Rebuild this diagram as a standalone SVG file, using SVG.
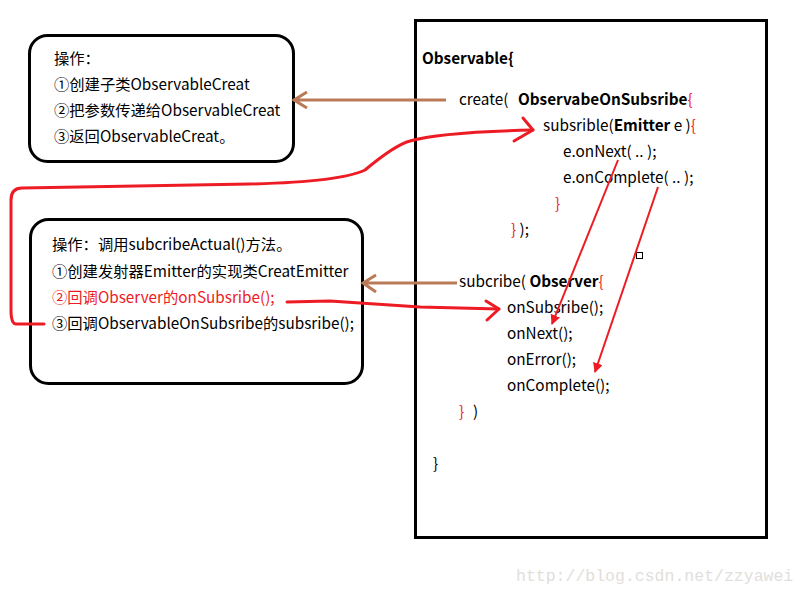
<svg xmlns="http://www.w3.org/2000/svg" width="808" height="595" viewBox="0 0 808 595">
<defs>
<style>
text{font-family:"Noto Sans CJK SC","Noto Sans",sans-serif;font-size:15.3px;fill:#000}
.b{font-weight:bold}
.r{fill:#ed1c24}
.box{fill:#fff;stroke:#000;stroke-width:3}
.brown{fill:none;stroke:#b97a57;stroke-width:3}
.red{fill:none;stroke:#ed1c24;stroke-width:3;stroke-linejoin:round;stroke-linecap:round}
.thin{fill:none;stroke:#ed1c24;stroke-width:2}
.wm{font-family:"Liberation Mono",monospace;font-size:16.5px;fill:#e2dedb}
</style>
<marker id="tri" viewBox="0 0 10 10" refX="9" refY="5" markerWidth="5" markerHeight="5" orient="auto" markerUnits="strokeWidth">
<path d="M0,0 L10,5 L0,10 z" fill="#ed1c24"/>
</marker>
</defs>
<rect width="808" height="595" fill="#fff"/>

<g id="observable">
<rect class="box" x="415.5" y="20.5" width="351" height="517"/>
<text x="422" y="64" class="b">Observable{</text>
<text x="459" y="105">create(<tspan x="518" class="b">ObservabeOnSubsribe</tspan><tspan class="r">{</tspan></text>
<text x="543" y="131">subsrible(<tspan class="b">Emitter</tspan> e )<tspan class="r">{</tspan></text>
<text x="563" y="157">e.onNext( .. );</text>
<text x="563" y="183">e.onComplete( .. );</text>
<text x="555" y="209" class="r">}</text>
<text x="511" y="235"><tspan class="r">}</tspan> );</text>
<text x="459" y="287">subcribe( <tspan class="b">Observer</tspan><tspan class="r">{</tspan></text>
<text x="507" y="313">onSubsribe();</text>
<text x="507" y="339">onNext();</text>
<text x="507" y="365">onError();</text>
<text x="507" y="391">onComplete();</text>
<text x="459" y="417"><tspan class="r">}</tspan><tspan x="473">)</tspan></text>
<text x="433" y="469">}</text>
<rect x="636.5" y="252.5" width="6" height="6" fill="#fff" stroke="#000" stroke-width="1"/>
</g>

<g id="box-create">
<rect class="box" x="29.5" y="35.5" width="264" height="126" rx="18"/>
<text x="54" y="64">操作：</text>
<text x="54" y="90">①创建子类ObservableCreat</text>
<text x="54" y="116">②把参数传递给ObservableCreat</text>
<text x="54" y="142">③返回ObservableCreat。</text>
</g>

<g id="box-subscribe">
<rect class="box" x="30.5" y="219.5" width="332" height="164" rx="18"/>
<text x="52" y="250">操作：调用subcribeActual()方法。</text>
<text x="52" y="277">①创建发射器Emitter的实现类CreatEmitter</text>
<text x="52" y="303" class="r">②回调Observer的onSubsribe();</text>
<text x="52" y="329">③回调ObservableOnSubsribe的subsribe();</text>
</g>

<g id="connectors">
<path class="brown" d="M446,100 H294 M307,92 L294,100 L307,108"/>
<path class="brown" d="M457,283 H363 M376,275 L363,283 L376,292"/>
<path class="red" d="M44,324 H16 Q11,324 11,310 V200 Q11,188 22,188 L250,184 Q340,182 365,170 Q395,145 410,141 Q440,132 533,130"/>
<path class="red" d="M523,118 L533,130 L514,141"/>
<path class="red" d="M287,302 L330,301 L420,307 L499,309"/>
<path class="red" d="M486,301 L499,309 L487,320"/>
<path class="thin" d="M618,160 L552,324" marker-end="url(#tri)"/>
<path class="thin" d="M658,187 L595,372" marker-end="url(#tri)"/>
</g>

<text class="wm" x="516" y="581">http://blog.csdn.net/zzyawei</text>
</svg>
